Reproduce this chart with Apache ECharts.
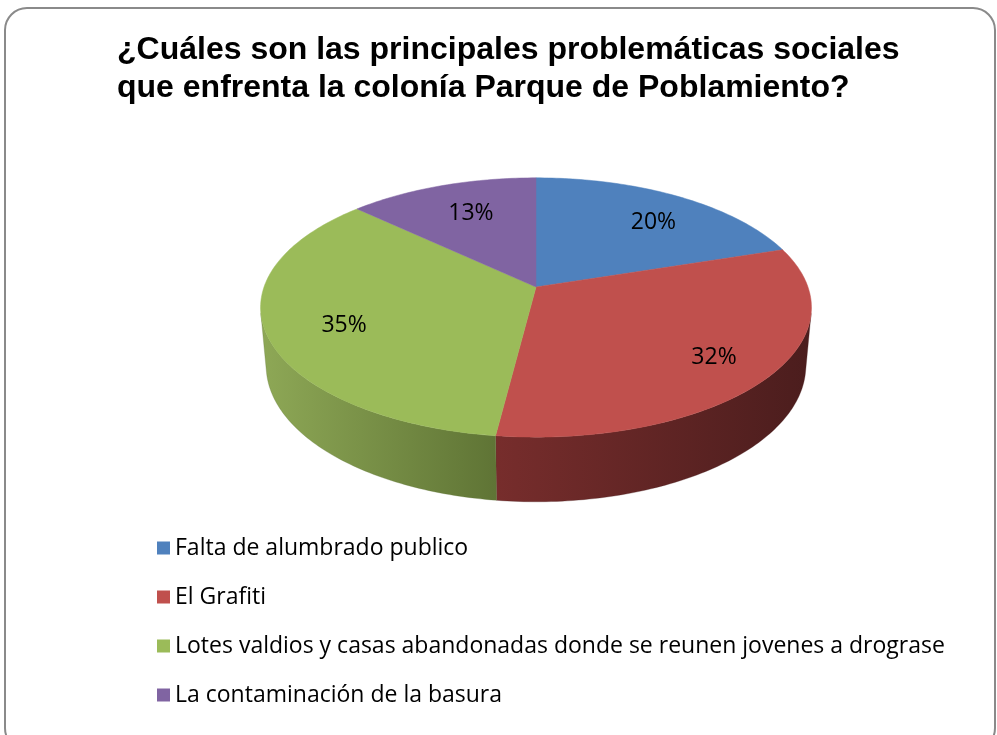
<!DOCTYPE html>
<html>
<head>
<meta charset="utf-8">
<script src="https://cdn.jsdelivr.net/npm/echarts@6/dist/echarts.min.js"></script>
<style>html,body{margin:0;padding:0;background:#fff;}#c{width:997px;height:735px;}</style>
</head>
<body>
<div id="c"></div>
<script>
const titleText = '¿Cuáles son las principales problemáticas sociales\nque enfrenta la colonía Parque de Poblamiento?';
const categories = ['Falta de alumbrado publico', 'El Grafiti', 'Lotes valdios y casas abandonadas donde se reunen jovenes a drograse', 'La contaminación de la basura'];
const values = [20, 32, 35, 13];
const colors = ['#4F81BD', '#C0504D', '#9BBB59', '#8064A2'];
const wallColors = [['#3A5F8C', '#2A4566'], ['#772D2C', '#4B1D1D'], ['#8EA856', '#5F7435'], ['#5E4A78', '#453657']];

const chart = echarts.init(document.getElementById('c'));
const total = values.reduce((a, b) => a + b, 0);

// perspective projection of a unit-radius disc
const CX = 536, CY = 287, F = 1523, D = 5.6, ALPHA = 27.7 * Math.PI / 180, H = 0.244;
const ca = Math.cos(ALPHA), sa = Math.sin(ALPHA);
const LIM = Math.asin(1 / (D * ca)) * 180 / Math.PI; // visible wall limit
function proj(X, Y, Z) {
  const depth = D + Z * ca - Y * sa;
  return [CX + F * X / depth, CY - F * (Y * ca + Z * sa) / depth];
}
function rim(phiDeg, Y, r) {
  const p = phiDeg * Math.PI / 180;
  return proj((r || 1) * Math.cos(p), Y, (r || 1) * Math.sin(p));
}
function arc(a, b, Y) {
  const pts = [];
  const n = Math.max(2, Math.ceil(Math.abs(b - a)));
  for (let k = 0; k <= n; k++) pts.push(rim(a + (b - a) * k / n, Y));
  return pts;
}

function makeRender(i) {
  return function (params, api) {
    const before = values.slice(0, i).reduce((a, b) => a + b, 0);
    const v = api.value(0);
    const start = 90 - 360 * before / total;
    const end = start - 360 * v / total;
    const children = [];
    // front wall
    [-360, 0, 360].forEach(function (k) {
      const a = Math.min(start + k, -LIM), b = Math.max(end + k, -180 + LIM);
      if (a > b) {
        const top = arc(a, b, 0);
        const bot = arc(b, a, -H);
        const pts = top.concat(bot);
        let xmin = Infinity, xmax = -Infinity;
        pts.forEach(p => { xmin = Math.min(xmin, p[0]); xmax = Math.max(xmax, p[0]); });
        children.push({
          type: 'polygon', z2: 0,
          shape: { points: pts },
          style: {
            fill: { type: 'linear', x: xmin, y: 0, x2: xmax, y2: 0, global: true,
              colorStops: [{ offset: 0, color: wallColors[i][0] }, { offset: 1, color: wallColors[i][1] }] },
            stroke: wallColors[i][1], lineWidth: 0.3
          }
        });
      }
    });
    // top face
    const facePts = [proj(0, 0, 0)].concat(arc(start, end, 0));
    children.push({ type: 'polygon', z2: 10, shape: { points: facePts }, style: { fill: colors[i], stroke: colors[i], lineWidth: 0.5 } });
    // label
    const mid = (start + end) / 2;
    const lp = rim(mid, 0, 0.75);
    children.push({
      type: 'text', z2: 20,
      style: { text: Math.round(v) + '%', x: lp[0] + 8, y: lp[1] + 5, fill: '#000', align: 'center', verticalAlign: 'middle',
        font: '23px "Open Sans", sans-serif' }
    });
    return { type: 'group', children: children };
  };
}

const series = categories.map(function (name, i) {
  return {
    type: 'custom', name: name,
    coordinateSystem: 'none',
    itemStyle: { color: colors[i] },
    data: [[values[i]]],
    renderItem: makeRender(i),
    animation: false
  };
});

chart.setOption({
  animation: false,
  title: {
    text: titleText, left: 112, top: 26,
    textStyle: { fontFamily: '"Liberation Sans", Arial, sans-serif', fontWeight: 'bold', fontSize: 32, lineHeight: 38, color: '#000' }
  },
  legend: {
    orient: 'vertical', left: 152, top: 531,
    icon: 'rect', itemWidth: 13, itemHeight: 13, itemGap: 25,
    selectedMode: false,
    textStyle: { fontFamily: '"Open Sans", sans-serif', fontSize: 23, lineHeight: 24, color: '#000' },
    data: categories
  },
  graphic: [{
    type: 'rect', silent: true,
    shape: { x: 5, y: 8, width: 990, height: 742, r: 22 },
    style: { fill: 'none', stroke: '#8a8a8a', lineWidth: 2 }
  }],
  series: series
});
</script>
</body>
</html>
